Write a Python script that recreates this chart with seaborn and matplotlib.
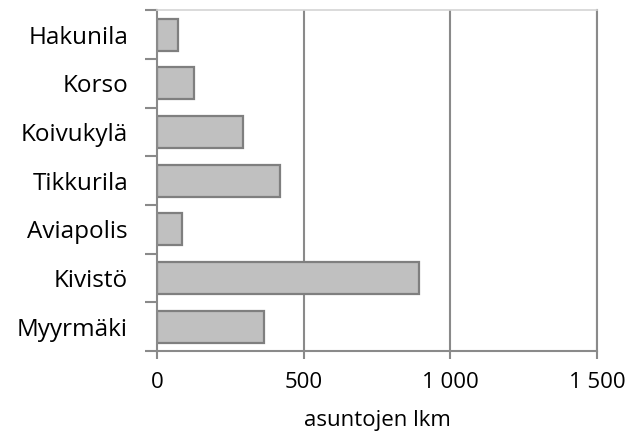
import matplotlib
matplotlib.use('Agg')
import matplotlib.pyplot as plt
import seaborn as sns
import numpy as np

# data
areas = ['Hakunila', 'Korso', 'Koivukylä', 'Tikkurila', 'Aviapolis', 'Kivistö', 'Myyrmäki']
homes = [70, 125, 291, 420, 85, 892, 364]
x_ticks = [0, 500, 1000, 1500]
x_labels = ['0', '500', '1 000', '1 500']
x_title = 'asuntojen lkm'

sns.set_style('white')
plt.rcParams['font.family'] = ['Open Sans', 'DejaVu Sans']
plt.rcParams['text.color'] = '#000000'
plt.rcParams['xtick.labelcolor'] = '#000000'
plt.rcParams['ytick.labelcolor'] = '#000000'

grey = '#8a8a8a'
fig = plt.figure(figsize=(6.42, 4.34), dpi=100)
ax = fig.add_axes([0.245, 0.191, 0.685, 0.785])

ax.grid(False)
for v in x_ticks[1:]:
    ax.axvline(v, color=grey, lw=1.5, zorder=0)

sns.barplot(x=homes, y=areas, orient='h', color='#c0c0c0', edgecolor='#7f7f7f',
            linewidth=1.6, width=0.66, saturation=1, ax=ax, zorder=2)

ax.set_xlim(0, 1500)
ax.set_ylim(len(areas) - 0.5, -0.5)
ax.set_xticks(x_ticks)
ax.set_xticklabels(x_labels, fontsize=16)
ax.set_xlabel(x_title, fontsize=16, labelpad=12, color='#000000')
ax.set_ylabel('')

# category labels centred, ticks on the boundaries
ax.set_yticks(np.arange(len(areas)))
ax.set_yticklabels(areas, fontsize=17.5)
ax.tick_params(axis='y', which='major', length=0, pad=21)
ax.set_yticks(np.arange(len(areas) + 1) - 0.5, minor=True)
ax.tick_params(axis='y', which='minor', length=9, width=1.5, color=grey, left=True)
ax.tick_params(axis='x', length=6, width=1.5, color=grey, bottom=True, pad=9)

for s in ['left', 'bottom', 'right']:
    ax.spines[s].set_color(grey)
    ax.spines[s].set_linewidth(1.5)
ax.spines['top'].set_color('#d4d4d4')
ax.spines['top'].set_linewidth(1.2)

fig.savefig('out.png', dpi=100)
